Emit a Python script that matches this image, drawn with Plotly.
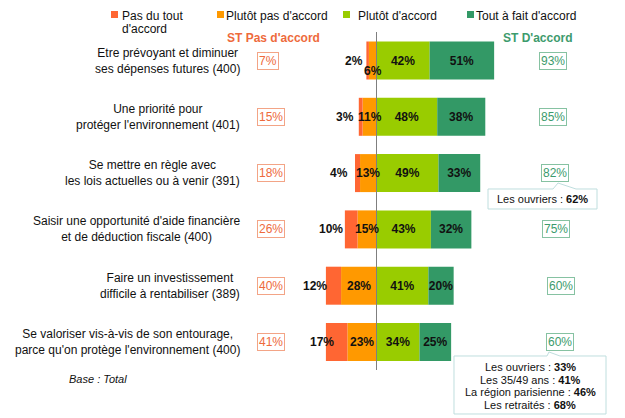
import plotly.graph_objects as go

# the page adds an 8px body margin, so the figure is drawn 8px smaller
OFF = 8
W, H = 625 - OFF, 418 - OFF

# data
items = [
    "Etre prévoyant et diminuer<br>ses dépenses futures (400)",
    "Une priorité pour<br>protéger l'environnement (401)",
    "Se mettre en règle avec<br>les lois actuelles ou à venir (391)",
    "Saisir une opportunité d'aide financière<br>et de déduction fiscale (400)",
    "Faire un investissement<br>difficile à rentabiliser (389)",
    "Se valoriser vis-à-vis de son entourage,<br>parce qu'on protège l'environnement (400)",
]
pas_du_tout = [2, 3, 4, 10, 12, 17]
plutot_pas = [6, 11, 13, 15, 28, 23]
plutot = [42, 48, 49, 43, 41, 34]
tout_a_fait = [51, 38, 33, 32, 20, 25]
st_pas = [7, 15, 18, 26, 40, 41]
st_accord = [93, 85, 82, 75, 60, 60]
legend_names = ["Pas du tout", "Plutôt pas d'accord", "Plutôt d'accord", "Tout à fait d'accord"]
callout_1 = ["Les ouvriers : <b>62%</b>"]
callout_2 = ["Les ouvriers : <b>33%</b>", "Les 35/49 ans : <b>41%</b>",
             "La région parisienne : <b>46%</b>", "Les retraités : <b>68%</b>"]

RED, ORANGE, LIME, GREEN = "#FF6633", "#FF9900", "#99CC00", "#339966"
TXT_OR, BOX_OR = "#EE6A3C", "#F3A486"
TXT_GR, BOX_GR = "#3D9B6D", "#86C2A2"
FONT = "Arial, Liberation Sans, sans-serif"
DARK = "#111111"

# pixel mapping (reference pixels)
X0, K = 376.5, 1.265      # zero line px, px per %
Y0, DY = 60.5, 56.3       # first row centre px, row step px


def px(x):
    return (x - OFF) / W


def py(y):
    return 1 - (y - OFF) / H


rows = list(range(len(items)))
fig = go.Figure()

fig.add_trace(go.Bar(y=rows, x=[-v for v in plutot_pas], orientation="h",
                     marker=dict(color=ORANGE, line_width=0), width=0.675))
fig.add_trace(go.Bar(y=rows, x=[-v for v in pas_du_tout], orientation="h",
                     marker=dict(color=RED, line_width=0), width=0.675))
for vals, col in [(plutot, LIME), (tout_a_fait, GREEN)]:
    fig.add_trace(go.Bar(
        y=rows, x=vals, orientation="h", width=0.675,
        marker=dict(color=col, line_width=0),
        text=[f"<b>{v}%</b>" for v in vals], textposition="inside",
        insidetextanchor="middle", textangle=0, constraintext="none",
        textfont=dict(family=FONT, size=12, color=DARK),
    ))


def note(x, y, text, size=12, color=DARK, xanchor="center", **kw):
    return dict(x=px(x), y=py(y), xref="paper", yref="paper", text=text, showarrow=False,
                xanchor=xanchor, yanchor="middle", borderpad=0,
                font=dict(family=FONT, size=size, color=color), **kw)


ann = []
for i in rows:
    # segment labels on the left side
    ann.append(dict(x=-plutot_pas[i] / 2, y=i, text=f"<b>{plutot_pas[i]}%</b>",
                    showarrow=False, xanchor="center", yanchor="middle",
                    yshift=-10 if i == 0 else 0,
                    font=dict(family=FONT, size=12, color=DARK)))
    ann.append(dict(x=-(plutot_pas[i] + pas_du_tout[i]), y=i, xanchor="right", yanchor="middle",
                    text=f"<b>{pas_du_tout[i]}%</b>", showarrow=False,
                    xshift=[-1, -3, -5, 0, 3, 10][i],
                    font=dict(family=FONT, size=12, color=DARK)))
    # category label
    ann.append(dict(x=px(242), xref="paper", y=i, xanchor="right", yanchor="middle",
                    align="center", text=items[i], showarrow=False,
                    font=dict(family=FONT, size=12, color=DARK)))
    # ST boxes
    ann.append(dict(x=px(257), xref="paper", y=i, xanchor="left", yanchor="middle",
                    text=f"{st_pas[i]}%", showarrow=False,
                    bordercolor=BOX_OR, borderwidth=1, borderpad=1, bgcolor="white",
                    font=dict(family=FONT, size=12, color=TXT_OR)))
    ann.append(dict(x=px([553, 553, 555, 556, 561, 560][i]), xref="paper", y=i,
                    xanchor="center", yanchor="middle",
                    text=f"{st_accord[i]}%", showarrow=False,
                    bordercolor=BOX_GR, borderwidth=1, borderpad=1, bgcolor="white",
                    font=dict(family=FONT, size=12, color=TXT_GR)))

# headers
ann.append(note(273, 38, "<b>ST Pas d'accord</b>", color=TXT_OR))
ann.append(note(538, 38, "<b>ST D'accord</b>", color=TXT_GR))

# legend
shapes = []
leg_sq = [111, 217, 343, 467]
leg_tx = [121, 225, 357, 475]
for name, col, sx, tx in zip(legend_names, [RED, ORANGE, LIME, GREEN], leg_sq, leg_tx):
    shapes.append(dict(type="rect", xref="paper", yref="paper", x0=px(sx), x1=px(sx + 7),
                       y0=py(18), y1=py(11), fillcolor=col, line_width=0))
    ann.append(note(tx, 15.5, name, xanchor="left"))
ann.append(note(121, 29, "d'accord", xanchor="left"))

# base
ann.append(note(68, 379, "<i>Base : Total</i>", size=11, xanchor="left"))

# zero line
shapes.append(dict(type="line", xref="x", yref="paper", x0=0, x1=0, y0=py(370), y1=py(32),
                   line=dict(color="#7F7F7F", width=1)))


def bubble(pts):
    return "M " + " L ".join(f"{px(a):.5f},{py(b):.5f}" for a, b in pts) + " Z"


CALL = "#BFDEDE"
shapes.append(dict(type="path", xref="paper", yref="paper", layer="below",
                   path=bubble([(488, 189), (553, 189), (558, 183), (576, 189), (597, 189),
                                (597, 209), (488, 209)]),
                   line=dict(color=CALL, width=1), fillcolor="white"))
shapes.append(dict(type="path", xref="paper", yref="paper", layer="below",
                   path=bubble([(454, 356), (547, 356), (549, 352), (560, 356), (606, 356),
                                (606, 414), (454, 414)]),
                   line=dict(color=CALL, width=1), fillcolor="white"))
for t in callout_1:
    ann.append(note(542, 199, t, size=11))
for j, t in enumerate(callout_2):
    ann.append(note(530, 367 + 12.7 * j, t, size=11))

fig.update_layout(
    width=W, height=H, margin=dict(l=0, r=0, t=0, b=0),
    paper_bgcolor="white", plot_bgcolor="white",
    barmode="relative", showlegend=False,
    xaxis=dict(range=[-(X0 - OFF) / K, (W - (X0 - OFF)) / K], visible=False, fixedrange=True),
    yaxis=dict(range=[(H - (Y0 - OFF)) / DY, -(Y0 - OFF) / DY], visible=False, fixedrange=True),
    annotations=ann, shapes=shapes,
)

fig.write_html("out.html")
